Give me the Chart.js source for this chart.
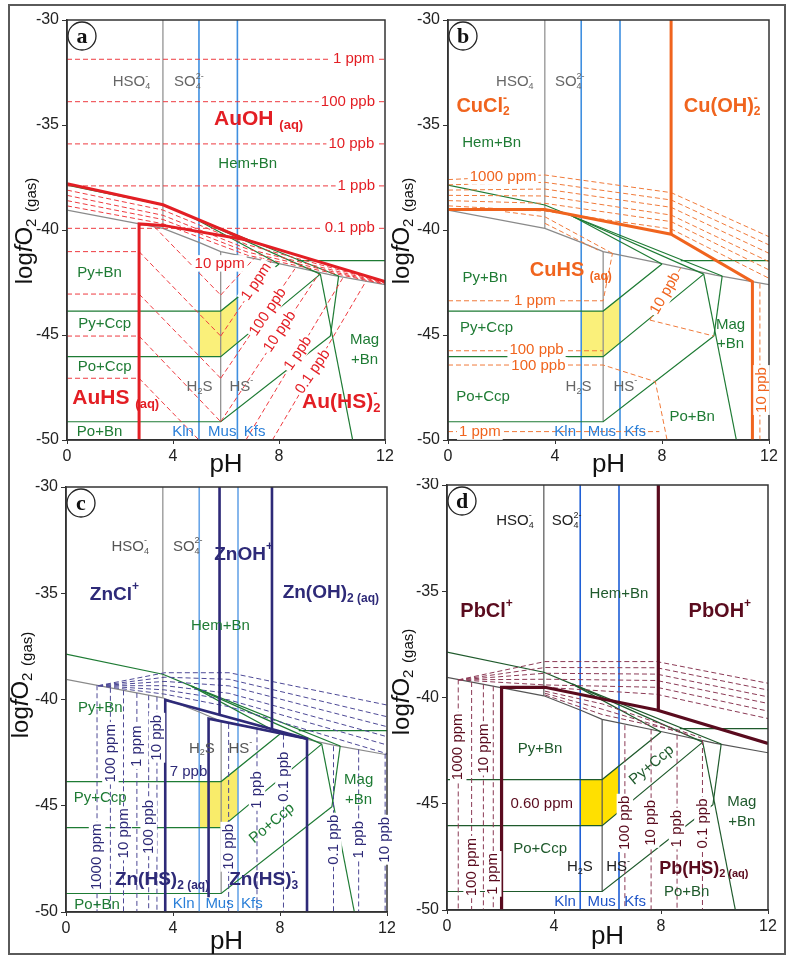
<!DOCTYPE html>
<html lang="en">
<head>
<meta charset="UTF-8">
<title>Au, Cu, Zn, Pb solubility vs pH and log fO2</title>
<style>
    html, body { margin: 0; padding: 0; background: #fff; }
    body { width: 795px; height: 956px; position: relative; overflow: hidden; }
    .frame { position: absolute; left: 8px; top: 4px; width: 778px; height: 951px; border: 2px solid #5a5a5a; box-sizing: border-box; }
    canvas { position: absolute; }
</style>
</head>
<body>
<div class="frame"></div>
<canvas id="chartA" width="395" height="478" style="left:0;top:0"></canvas>
<canvas id="chartB" width="415" height="478" style="left:380px;top:0"></canvas>
<canvas id="chartC" width="395" height="478" style="left:0;top:478px"></canvas>
<canvas id="chartD" width="415" height="478" style="left:380px;top:478px"></canvas>

<script src="https://cdn.jsdelivr.net/npm/chart.js@4.4.1/dist/chart.umd.min.js"></script>
<script>
const FONT = "Arial, 'Liberation Sans', Helvetica, sans-serif";

const phTicks = [0, 4, 8, 12];
const fo2Ticks = [-30, -35, -40, -45, -50];

// shared framework, points are [pH, log fO2]
const hso4Line = [[3.62, -30], [3.62, -39.92]];
const sulfideLine = [[0, -39.05], [3.62, -39.92], [5.0, -40.6], [5.8, -41.03], [8, -41.6], [10, -42.15], [12, -42.6]];
const h2sLine = [[5.8, -41.03], [5.8, -49.13]];
const klnMus = [[4.98, -30], [4.98, -50]];
const musKfs = [[6.43, -30], [6.43, -50]];

const hemPy = [[0, -37.86], [3.62, -38.81], [4.69, -39.37], [8.0, -41.62]];
const hemPy2 = [[4.69, -39.37], [9.56, -42.1]];
const hemPy3 = [[4.69, -39.37], [10.25, -42.19]];
const hemMag = [[8.7, -41.46], [12, -41.46]];
const pyBnCcp = [[0, -43.86], [5.8, -43.86], [8.0, -41.62]];
const pyPoCcp = [[0, -46.03], [5.8, -46.03], [9.56, -42.1]];
const poCcpBn = [[0, -49.13], [5.8, -49.13], [9.94, -45.05]];
const magA = [[9.56, -42.1], [10.78, -50]];
const magB = [[10.25, -42.19], [9.94, -45.05]];
const greenLines = [hemPy, hemPy2, hemPy3, hemMag, pyBnCcp, pyPoCcp, poCcpBn, magA, magB];

const targetBox = [[4.98, -43.86], [5.8, -43.86], [6.43, -43.22], [6.43, -45.37], [5.8, -46.03], [4.98, -46.03], [4.98, -43.86]];

// a: gold
const auThick = [
    [[0, -37.8], [3.62, -38.8], [6.8, -40.48], [12, -42.46]],
    [[2.72, -50], [2.72, -39.71], [3.62, -39.78], [6.8, -40.48]]
];
const auLevels = [-31.87, -33.89, -35.9, -37.9, -39.92];
const auWedge = [
    [[0, -38.1], [3.62, -39.05], [6.8, -40.7], [12, -42.5]],
    [[0, -38.35], [3.62, -39.3], [6.8, -40.9], [12, -42.53]],
    [[0, -38.6], [3.62, -39.5], [6.8, -41.05], [12, -42.56]],
    [[0, -38.85], [3.62, -39.7], [6.8, -41.2], [12, -42.58]]
];
const auAcidEdge = 2.72;
const auAcidLevels = [-41.03, -43.05, -45.05, -47.06];
const auDown = [
    [[3.3, -39.85], [5.8, -43.1]],
    [[2.72, -41.03], [5.8, -45.05]],
    [[2.72, -43.05], [5.8, -47.06]],
    [[2.72, -45.05], [5.8, -49.13]],
    [[2.72, -47.06], [4.98, -50]]
];
const auUp = [
    [[5.8, -43.1], [7.1, -41.3]],
    [[5.8, -45.05], [7.7, -41.5]],
    [[5.8, -47.06], [8.6, -41.85]],
    [[5.8, -49.13], [9.5, -42.1]],
    [[6.75, -50], [10.4, -42.3]],
    [[7.75, -50], [11.3, -42.4]]
];
const auLabels = [
    ['HSO_{4}^{-}', 2.43, -32.94, 's'], ['SO_{4}^{2-}', 4.6, -32.94, 's'],
    ['AuOH _{(aq)}', 7.23, -34.71, 'sp'], ['Hem+Bn', 6.82, -36.86, 'm'],
    ['1 ppm', 10.82, -31.87, 'c'], ['100 ppb', 10.6, -33.89, 'c'], ['10 ppb', 10.73, -35.9, 'c'],
    ['1 ppb', 10.92, -37.9, 'c'], ['0.1 ppb', 10.67, -39.92, 'c'],
    ['10 ppm', 5.76, -41.59, 'c'],
    ['1 ppm', 7.15, -42.46, 'c', 56], ['100 ppb', 7.58, -43.9, 'c', 56], ['10 ppb', 8.03, -44.84, 'c', 56],
    ['1 ppb', 8.72, -45.87, 'c', 56], ['0.1 ppb', 9.28, -46.75, 'c', 56],
    ['Py+Bn', 1.23, -42.06, 'm'], ['Py+Ccp', 1.42, -44.49, 'm'], ['Po+Ccp', 1.42, -46.51, 'm'], ['Po+Bn', 1.23, -49.6, 'm'],
    ['AuHS _{(aq)}', 1.84, -48.0, 'sp'], ['H_{2}S', 5.0, -47.46, 's'], ['HS^{-}', 6.58, -47.46, 's'],
    ['Kln', 4.38, -49.6, 'b'], ['Mus', 5.86, -49.6, 'b'], ['Kfs', 7.08, -49.6, 'b'],
    ['Au(HS)_{2}^{-}', 10.35, -48.18, 'sp'], ['Mag', 11.23, -45.24, 'm'], ['+Bn', 11.23, -46.19, 'm']
];

// b: copper
const cuThick = [
    [[8.34, -30], [8.34, -40.2]],
    [[0, -39.02], [3.62, -39.02], [8.34, -40.2], [11.38, -42.46], [11.38, -50]]
];
const cuUpper = [
    [[0, -37.6], [3.62, -37.38], [8.34, -38.22], [12, -40.32]],
    [[0, -37.85], [3.62, -37.73], [8.34, -38.57], [12, -40.71]],
    [[0, -38.1], [3.62, -38.05], [8.34, -38.92], [12, -41.11]],
    [[0, -38.35], [3.62, -38.38], [8.34, -39.29], [12, -41.51]],
    [[0, -38.6], [3.62, -38.73], [8.34, -39.6], [12, -41.9]],
    [[0, -38.85], [3.62, -39.1], [8.34, -39.95], [12, -42.3]]
];
const cuLower = [
    [[2.13, -39.13], [3.62, -39.37], [6.2, -41.15]],
    [[3.62, -39.68], [5.6, -40.95]]
];
const cuSulfide = [
    [[0, -43.37], [5.8, -43.37], [6.15, -41.1]],
    [[0, -45.75], [5.8, -45.75]],
    [[0, -46.43], [5.8, -46.43], [7.75, -47.22], [8.19, -50]],
    [[7.55, -44.29], [8.7, -41.8]],
    [[7.55, -44.29], [9.94, -45.05]],
    [[0, -49.6], [7.9, -49.6]],
    [[11.66, -42.55], [11.66, -50]]
];
const cuLabels = [
    ['HSO_{4}^{-}', 2.5, -32.94, 's'], ['SO_{4}^{2-}', 4.55, -32.94, 's'],
    ['CuCl_{2}^{-}', 1.31, -34.1, 'sp'], ['Cu(OH)_{2}^{-}', 10.25, -34.1, 'sp'], ['Hem+Bn', 1.63, -35.84, 'm'],
    ['1000 ppm', 2.06, -37.45, 'c'], ['CuHS _{(aq)}', 4.59, -41.95, 'sp'], ['Py+Bn', 1.38, -42.3, 'm'],
    ['1 ppm', 3.25, -43.37, 'c'], ['Py+Ccp', 1.44, -44.68, 'm'], ['100 ppb', 3.31, -45.7, 'c'], ['100 ppb', 3.38, -46.45, 'c'],
    ['H_{2}S', 4.88, -47.46, 's'], ['HS^{-}', 6.63, -47.46, 's'], ['Po+Ccp', 1.31, -47.94, 'm'], ['1 ppm', 1.19, -49.6, 'c'],
    ['Kln', 4.38, -49.6, 'b'], ['Mus', 5.75, -49.6, 'b'], ['Kfs', 7.0, -49.6, 'b'],
    ['Po+Bn', 9.13, -48.92, 'm'], ['Mag', 10.56, -44.52, 'm'], ['+Bn', 10.56, -45.4, 'm'],
    ['10 ppb', 11.72, -47.62, 'c', 90], ['10 ppb', 8.13, -43.01, 'c', 60]
];

// c: zinc
const znThick = [
    [[5.74, -30], [5.74, -40.7]],
    [[7.7, -30], [7.7, -41.4]],
    [[3.71, -50], [3.71, -40.02], [9.01, -41.85], [9.01, -50]],
    [[5.33, -49.3], [5.33, -40.9], [9.01, -41.85]]
];
const znUpper = [
    [[1.2, -39.35], [3.7, -38.74], [6.1, -38.74], [12, -40.26]],
    [[1.2, -39.35], [3.7, -38.95], [6.1, -39.05], [12, -40.81]],
    [[1.2, -39.35], [3.7, -39.15], [6.1, -39.36], [12, -41.28]],
    [[1.2, -39.35], [3.7, -39.35], [6.1, -39.71], [12, -41.75]],
    [[1.2, -39.35], [3.7, -39.55], [6.1, -40.02], [12, -42.14]],
    [[1.2, -39.35], [3.7, -39.75], [6.1, -40.34], [12, -42.55]]
];
const znAcidCols = [1.16, 1.66, 2.15, 2.65, 3.09, 3.4];
const znAcidTops = [-39.33, -39.45, -39.57, -39.69, -39.8, -39.87];
const znBaseCols = [6.08, 7.14, 8.13, 10.0, 10.94, 11.93];
const znBaseTops = [-41.15, -41.4, -41.65, -42.2, -42.35, -42.55];
const znLabels = [
    ['HSO_{4}^{-}', 2.4, -32.81, 's'], ['SO_{4}^{2-}', 4.55, -32.81, 's'],
    ['ZnOH^{+}', 6.64, -33.17, 'sp'], ['ZnCl^{+}', 1.81, -35.05, 'sp'], ['Zn(OH)_{2 (aq)}', 9.9, -35.0, 'sp'],
    ['Hem+Bn', 5.77, -36.53, 'm'], ['Py+Bn', 1.28, -40.41, 'm'],
    ['H_{2}S', 5.08, -42.3, 's'], ['HS^{-}', 6.52, -42.3, 's'], ['7 ppb', 4.58, -43.4, 'q'],
    ['Mag', 10.94, -43.79, 'm'], ['+Bn', 10.94, -44.73, 'm'], ['Py+Ccp', 1.28, -44.65, 'm'],
    ['Po+Ccp', 7.7, -45.83, 'm', 40], ['Zn(HS)_{2 (aq)}', 3.59, -48.49, 'sp'], ['Zn(HS)_{3}^{-}', 7.39, -48.49, 'sp'],
    ['Po+Bn', 1.16, -49.67, 'm'], ['Kln', 4.4, -49.62, 'b'], ['Mus', 5.74, -49.62, 'b'], ['Kfs', 6.95, -49.62, 'b'],
    ['1000 ppm', 1.16, -47.4, 'c', 90], ['100 ppm', 1.66, -42.53, 'c', 90], ['10 ppm', 2.15, -46.3, 'c', 90],
    ['1 ppm', 2.65, -42.2, 'c', 90], ['100 ppb', 3.09, -46.0, 'c', 90], ['10 ppb', 3.4, -41.8, 'c', 90],
    ['10 ppb', 6.08, -46.93, 'c', 90], ['1 ppb', 7.14, -44.26, 'c', 90], ['0.1 ppb', 8.13, -43.63, 'c', 90],
    ['0.1 ppb', 10.0, -46.6, 'c', 90], ['1 ppb', 10.94, -46.6, 'c', 90], ['10 ppb', 11.93, -46.6, 'c', 90]
];

// d: lead
const pbThick = [
    [[7.9, -30], [7.9, -40.6]],
    [[2.04, -50], [2.04, -39.52], [3.66, -39.52], [7.84, -40.59], [12, -42.16]]
];
const pbUpper = [
    [[0.42, -39.17], [3.66, -38.31], [7.84, -38.31], [12, -39.33]],
    [[0.42, -39.17], [3.66, -38.59], [7.84, -38.6], [12, -39.65]],
    [[0.42, -39.17], [3.66, -38.86], [7.84, -38.9], [12, -39.97]],
    [[0.42, -39.17], [3.66, -39.14], [7.84, -39.2], [12, -40.28]],
    [[0.42, -39.17], [3.66, -39.41], [7.84, -39.52], [12, -40.64]],
    [[3.66, -39.52], [7.84, -39.85], [12, -40.99]]
];
const pbLower = [
    [[3.66, -39.7], [5.8, -40.3], [9.5, -41.9]],
    [[3.66, -39.8], [5.8, -40.55], [9.0, -41.75]],
    [[3.66, -39.88], [5.8, -40.8], [8.5, -41.55]]
];
const pbAcidCols = [0.42, 0.92, 1.36, 1.73];
const pbAcidTops = [-39.15, -39.27, -39.38, -39.47];
const pbBaseCols = [6.65, 7.63, 8.6, 9.55];
const pbBaseTops = [-41.3, -41.5, -41.75, -42.0];
const pbLabels = [
    ['HSO_{4}^{-}', 2.54, -31.7, 's'], ['SO_{4}^{2-}', 4.47, -31.7, 's'], ['Hem+Bn', 6.43, -35.12, 'm'],
    ['PbCl^{+}', 1.48, -35.95, 'sp'], ['PbOH^{+}', 10.2, -35.95, 'sp'],
    ['Py+Bn', 3.48, -42.4, 'm'], ['0.60 ppm', 3.54, -45.02, 'q'], ['Po+Ccp', 3.48, -47.11, 'm'],
    ['H_{2}S', 4.97, -47.98, 's'], ['HS^{-}', 6.4, -47.98, 's'], ['Py+Ccp', 7.65, -43.18, 'm', 40],
    ['Mag', 11.02, -44.92, 'm'], ['+Bn', 11.02, -45.86, 'm'], ['Pb(HS)_{2 (aq)}', 9.6, -48.06, 'sp2'],
    ['Po+Bn', 8.96, -49.16, 'm'], ['Kln', 4.41, -49.6, 'b'], ['Mus', 5.78, -49.6, 'b'], ['Kfs', 7.03, -49.6, 'b'],
    ['1000 ppm', 0.42, -42.32, 'c', 90], ['10 ppm', 1.36, -42.4, 'c', 90], ['100 ppm', 0.92, -47.98, 'c', 90],
    ['1 ppm', 1.73, -48.3, 'c', 90], ['100 ppb', 6.65, -45.9, 'c', 90], ['10 ppb', 7.63, -45.9, 'c', 90],
    ['1 ppb', 8.6, -46.17, 'c', 90], ['0.1 ppb', 9.55, -45.93, 'c', 90]
];

function pts(a) { return a.map(p => ({ x: p[0], y: p[1] })); }
function seg(a, color, width, dashed, order) {
    return { data: pts(a), showLine: true, borderColor: color, borderWidth: width,
        borderDash: dashed ? [5, 3] : [], pointRadius: 0, fill: false, order: order };
}

function baseSets(st) {
    const s = [];
    s.push({ data: pts(targetBox), showLine: true, borderWidth: 0, borderColor: st.yellow,
        backgroundColor: st.yellow, fill: 'shape', pointRadius: 0, order: 50 });
    [klnMus, musKfs].forEach(l => s.push(seg(l, st.blue, 1.6, false, 40)));
    [hso4Line, sulfideLine, h2sLine].forEach(l => s.push(seg(l, st.gray, 1.2, false, 30)));
    greenLines.forEach(l => s.push(seg(l, st.green, 1.2, false, 20)));
    return s;
}

function parseRich(s) {
    const parts = [];
    const re = /([_^%])\{([^}]*)\}|([^_^%]+)/g;
    let m;
    while ((m = re.exec(s))) {
        if (m[3] !== undefined) parts.push({ t: m[3], k: 'n' });
        else parts.push({ t: m[2], k: m[1] === '_' ? 'sub' : m[1] === '^' ? 'sup' : 'it' });
    }
    return parts;
}

function drawRich(ctx, text, x, y, st, rot, align) {
    const size = st.size;
    let cx = 0, prev = null, subX = 0, subW = 0;
    const items = [];
    parseRich(text).forEach(p => {
        const small = p.k === 'sub' || p.k === 'sup';
        const fs = small ? Math.round(size * 0.62) : size;
        const font = (p.k === 'it' ? 'italic ' : '') + (st.bold ? 'bold ' : '') + fs + 'px ' + FONT;
        ctx.font = font;
        const w = ctx.measureText(p.t).width;
        const dy = p.k === 'sub' ? size * 0.3 : p.k === 'sup' ? -size * 0.38 : 0;
        if (p.k === 'sup' && prev && prev.k === 'sub') {
            items.push({ t: p.t, x: subX, dy, font });
            cx = subX + Math.max(subW, w);
        } else {
            if (p.k === 'sub') { subX = cx; subW = w; }
            items.push({ t: p.t, x: cx, dy, font });
            cx += w;
        }
        prev = p;
    });
    const off = align === 'left' ? 0 : -cx / 2;
    ctx.save();
    ctx.translate(x, y);
    if (rot) ctx.rotate(-rot * Math.PI / 180);
    if (st.bg) {
        ctx.fillStyle = '#fff';
        ctx.fillRect(off - 2, -size * 0.55, cx + 4, size * 1.1);
    }
    ctx.fillStyle = st.color;
    ctx.textBaseline = 'middle';
    ctx.textAlign = 'left';
    items.forEach(it => { ctx.font = it.font; ctx.fillText(it.t, off + it.x, it.dy); });
    ctx.restore();
}

function decor(p) {
    return {
        id: 'decor',
        afterDraw(chart) {
            const ctx = chart.ctx, a = chart.chartArea, xs = chart.scales.x, ys = chart.scales.y;
            ctx.save();
            ctx.strokeStyle = '#333';
            ctx.lineWidth = 1.5;
            ctx.strokeRect(a.left, a.top, a.right - a.left, a.bottom - a.top);
            p.labels.forEach(l => {
                drawRich(ctx, l[0], xs.getPixelForValue(l[1]), ys.getPixelForValue(l[2]), p.styles[l[3]], l[4] || 0, 'center');
            });
            // panel letter
            const lx = a.left + 15, ly = a.top + 16;
            ctx.beginPath();
            ctx.arc(lx, ly, 14, 0, Math.PI * 2);
            ctx.fillStyle = '#fff';
            ctx.fill();
            ctx.strokeStyle = '#222';
            ctx.lineWidth = 1.3;
            ctx.stroke();
            ctx.fillStyle = '#111';
            ctx.font = "bold 22px 'Times New Roman', 'Liberation Serif', serif";
            ctx.textAlign = 'center';
            ctx.textBaseline = 'middle';
            ctx.fillText(p.letter, lx, ly + 1);
            drawRich(ctx, 'log%{f}O_{2} _{(gas)}', p.yTitleX, p.yTitleY, { size: 24, color: '#111' }, 90, 'center');
            drawRich(ctx, 'pH', (a.left + a.right) / 2, p.xTitleY, { size: 26, color: '#111' }, 0, 'center');
            ctx.restore();
        }
    };
}

function makeChart(id, p) {
    return new Chart(document.getElementById(id), {
        type: 'scatter',
        data: { datasets: p.datasets },
        options: {
            responsive: false,
            animation: false,
            events: [],
            layout: { padding: p.pad },
            plugins: { legend: { display: false }, tooltip: { enabled: false } },
            scales: {
                x: {
                    type: 'linear', min: 0, max: 12,
                    afterBuildTicks: s => { s.ticks = phTicks.map(v => ({ value: v })); },
                    afterFit: s => { s.height = p.xH; s.paddingLeft = 0; s.paddingRight = 0; },
                    ticks: { font: { size: 16, family: FONT }, color: '#222', maxRotation: 0, autoSkip: false, padding: 3 },
                    grid: { drawOnChartArea: false, drawTicks: true, tickLength: 4, color: '#333' },
                    border: { color: '#333', width: 1.5 }
                },
                y: {
                    type: 'linear', min: -50, max: -30,
                    afterBuildTicks: s => { s.ticks = fo2Ticks.map(v => ({ value: v })); },
                    afterFit: s => { s.width = p.yW; s.paddingTop = 0; s.paddingBottom = 0; },
                    ticks: { font: { size: 16, family: FONT }, color: '#222', autoSkip: false, padding: 3 },
                    grid: { drawOnChartArea: false, drawTicks: true, tickLength: 5, color: '#333' },
                    border: { color: '#333', width: 1.5 }
                }
            }
        },
        plugins: [decor(p)]
    });
}

function styles(metal, green, grayText, blueText, spSize) {
    return {
        m: { size: 15, color: green },
        s: { size: 15, color: grayText },
        b: { size: 15, color: blueText },
        c: { size: 15, color: metal, bg: true },
        q: { size: 15, color: metal },
        sp: { size: spSize, color: metal, bold: true },
        sp2: { size: spSize - 2, color: metal, bold: true }
    };
}

// panel a
const redThick = '#e31e24', redDash = '#ee3b40';
const setsA = baseSets({ yellow: '#faf07a', blue: '#3f8fe0', gray: '#8a8a8a', green: '#1e7b34' });
auLevels.forEach(y => setsA.push(seg([[0, y], [12, y]], redDash, 1, true, 10)));
auWedge.forEach(l => setsA.push(seg(l, redDash, 1, true, 10)));
auAcidLevels.forEach(y => setsA.push(seg([[0, y], [auAcidEdge, y]], redDash, 1, true, 10)));
auDown.concat(auUp).forEach(l => setsA.push(seg(l, redDash, 1, true, 10)));
auThick.forEach(l => setsA.push(seg(l, redThick, 3, false, 0)));
makeChart('chartA', {
    datasets: setsA, labels: auLabels, letter: 'a',
    styles: styles(redThick, '#1e7b34', '#666', '#2a7fd8', 21),
    pad: { top: 20, right: 10, left: 0, bottom: 0 }, yW: 67, xH: 38,
    yTitleX: 25, yTitleY: 231, xTitleY: 465
});

// panel b
const orThick = '#f0641e', orDash = '#f07a3a';
const setsB = baseSets({ yellow: '#faf07a', blue: '#3f8fe0', gray: '#8a8a8a', green: '#1e7b34' });
cuUpper.concat(cuLower, cuSulfide).forEach(l => setsB.push(seg(l, orDash, 1, true, 10)));
cuThick.forEach(l => setsB.push(seg(l, orThick, 3, false, 0)));
makeChart('chartB', {
    datasets: setsB, labels: cuLabels, letter: 'b',
    styles: styles(orThick, '#1e7b34', '#666', '#2a7fd8', 20),
    pad: { top: 20, right: 26, left: 0, bottom: 0 }, yW: 68, xH: 38,
    yTitleX: 22, yTitleY: 231, xTitleY: 465
});

// panel c
const navyThick = '#2e2a78', navyDash = '#4d4996';
const setsC = baseSets({ yellow: '#f9ec6a', blue: '#6aa6e8', gray: '#8a8a8a', green: '#1e7b34' });
znUpper.forEach(l => setsC.push(seg(l, navyDash, 1, true, 10)));
znAcidCols.forEach((x, i) => setsC.push(seg([[x, znAcidTops[i]], [x, -50]], navyDash, 1, true, 10)));
znBaseCols.forEach((x, i) => setsC.push(seg([[x, znBaseTops[i]], [x, -50]], navyDash, 1, true, 10)));
znThick.forEach(l => setsC.push(seg(l, navyThick, 2.6, false, 0)));
makeChart('chartC', {
    datasets: setsC, labels: znLabels, letter: 'c',
    styles: styles(navyThick, '#1e7b34', '#555', '#2a7fd8', 19),
    pad: { top: 9, right: 8, left: 0, bottom: 0 }, yW: 66, xH: 44,
    yTitleX: 21, yTitleY: 207, xTitleY: 464
});

// panel d
const pbThickC = '#5a0b1e', pbDash = '#8b3a55';
const setsD = baseSets({ yellow: '#ffe000', blue: '#1f5fd6', gray: '#555', green: '#1f5a2c' });
pbUpper.concat(pbLower).forEach(l => setsD.push(seg(l, pbDash, 1, true, 10)));
pbAcidCols.forEach((x, i) => setsD.push(seg([[x, pbAcidTops[i]], [x, -50]], pbDash, 1, true, 10)));
pbBaseCols.forEach((x, i) => setsD.push(seg([[x, pbBaseTops[i]], [x, -50]], pbDash, 1, true, 10)));
pbThick.forEach(l => setsD.push(seg(l, pbThickC, 3.2, false, 0)));
makeChart('chartD', {
    datasets: setsD, labels: pbLabels, letter: 'd',
    styles: styles(pbThickC, '#1f5a2c', '#222', '#1f55c8', 20),
    pad: { top: 7, right: 27, left: 0, bottom: 0 }, yW: 67, xH: 46,
    yTitleX: 22, yTitleY: 204, xTitleY: 459
});
</script>
</body>
</html>
